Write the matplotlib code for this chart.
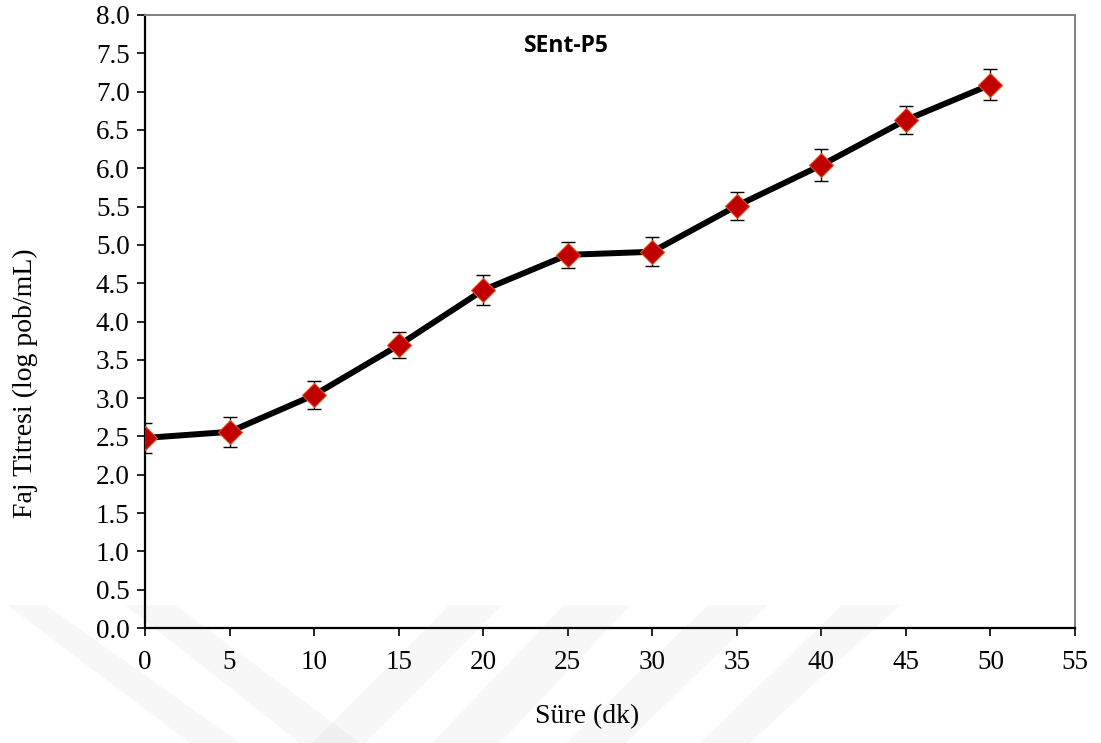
import numpy as np
import matplotlib.pyplot as plt
from matplotlib.patches import Polygon
from matplotlib.ticker import MultipleLocator, FormatStrFormatter

# Veri ---------------------------------------------------------------
sure = [0, 5, 10, 15, 20, 25, 30, 35, 40, 45, 50]
titre = [2.48, 2.56, 3.04, 3.69, 4.41, 4.87, 4.91, 5.51, 6.04, 6.63, 7.09]
hata = [0.20, 0.20, 0.18, 0.17, 0.20, 0.17, 0.19, 0.18, 0.21, 0.18, 0.20]

plt.rcParams['font.family'] = ['Liberation Serif', 'DejaVu Serif']

fig = plt.figure(figsize=(11.01, 7.43), dpi=100)
ax = fig.add_axes([145 / 1101, 1 - 628 / 743, 930 / 1101, 613 / 743])

ax.errorbar(sure, titre, yerr=hata, fmt='none', ecolor='black',
            elinewidth=1.0, capsize=4.7, capthick=1.0, zorder=2)
ax.plot(sure, titre, color='black', lw=4.3, zorder=3)
ax.plot(sure, titre, ls='none', marker='D', ms=12, mfc='#C00000',
        mec='#E0501A', mew=0.8, zorder=4)

ax.set_xlim(0, 55)
ax.set_ylim(0, 8)
ax.xaxis.set_major_locator(MultipleLocator(5))
ax.yaxis.set_major_locator(MultipleLocator(0.5))
ax.yaxis.set_major_formatter(FormatStrFormatter('%.1f'))
ax.tick_params(axis='both', direction='out', length=6, width=1.2,
               labelsize=19.5, colors='black')
ax.tick_params(axis='x', pad=10)
ax.tick_params(axis='y', pad=5)

for s in ['left', 'bottom']:
    ax.spines[s].set_linewidth(1.6)
    ax.spines[s].set_color('black')
for s in ['top', 'right']:
    ax.spines[s].set_linewidth(1.4)
    ax.spines[s].set_color('#808080')

fig.text(566 / 1101, 1 - 46 / 743, 'SEnt-P5', ha='center', va='center',
         fontsize=16.5, fontweight='bold', family=['Open Sans', 'DejaVu Sans'])
fig.text(587 / 1101, 1 - 717 / 743, 'Süre (dk)', ha='center', va='center',
         fontsize=20)
fig.text(25 / 1101, 1 - 383 / 743, 'Faj Titresi (log pob/mL)', ha='center',
         va='center', rotation=90, fontsize=20)

# filigran (soluk arka plan deseni)
bantlar = [
    [(7, 605), (46, 605), (240, 743), (190, 743)],
    [(125, 605), (175, 605), (360, 743), (300, 743)],
    [(449, 605), (502, 605), (365, 743), (312, 743)],
    [(564, 605), (631, 605), (500, 743), (432, 743)],
    [(708, 605), (768, 605), (626, 743), (566, 743)],
    [(842, 605), (900, 605), (750, 743), (700, 743)],
]
for b in bantlar:
    pts = [(x / 1101, 1 - y / 743) for x, y in b]
    fig.patches.append(Polygon(pts, closed=True, transform=fig.transFigure,
                               facecolor='#808080', alpha=0.06, lw=0,
                               zorder=10))

fig.savefig('out.png', dpi=100)
